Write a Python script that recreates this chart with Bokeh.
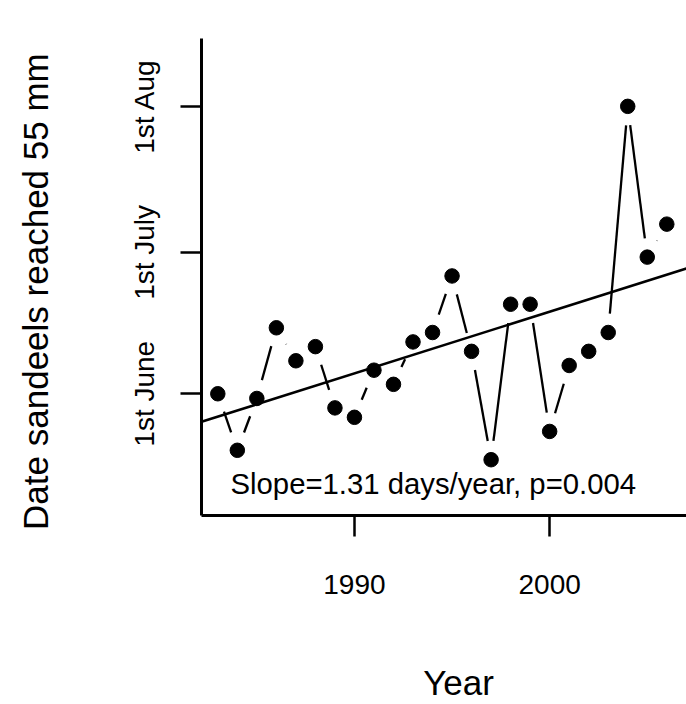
import numpy as np
from bokeh.plotting import figure
from bokeh.models import Range1d, FixedTicker, Label
from bokeh.embed import file_html
from bokeh.resources import INLINE

# ---- data ----
years = list(range(1983, 2007))
days = [152, 140, 151, 166, 159, 162, 149, 147, 157, 154, 163, 165,
        177, 161, 138, 171, 171, 144, 158, 161, 165, 213, 181, 188]
y_ticks = [152, 182, 213]
y_tick_labels = ["1st June", "1st July", "1st Aug"]
x_ticks = [1990, 2000]
slope_text = "Slope=1.31 days/year, p=0.004"
x_title = "Year"
y_title = "Date sandeels reached 55 mm"

# ---- layout ----
W, H = 686, 704
ML, MR, MT, MB = 201, 0, 38, 189
x0, x1 = 1982.165, 2007.01
y0, y1 = 126.16, 227.4
FONT = "Liberation Sans"

p = figure(width=W, height=H, output_backend="svg", toolbar_location=None,
           x_range=Range1d(x0, x1), y_range=Range1d(y0, y1),
           min_border_left=ML, min_border_right=MR, min_border_top=MT,
           min_border_bottom=MB)
p.outline_line_color = None
p.grid.visible = False
p.background_fill_color = "white"
p.border_fill_color = "white"

# px per data unit (frame)
fw = W - ML - MR
fh = H - MT - MB
sx = fw / (x1 - x0)
sy = fh / (y1 - y0)

# connecting line with gaps around points (like R type="b")
gap = 19.0
xs, ys = [], []
for i in range(len(years) - 1):
    ax, ay = years[i], days[i]
    bx, by = years[i + 1], days[i + 1]
    dx, dy = (bx - ax) * sx, (by - ay) * sy
    L = np.hypot(dx, dy)
    if L > 2 * gap:
        f = gap / L
        xs.append([ax + f * (bx - ax), bx - f * (bx - ax)])
        ys.append([ay + f * (by - ay), by - f * (by - ay)])
p.multi_line(xs, ys, line_color="black", line_width=2.3)

# regression line
b, a = np.polyfit(years, days, 1)
p.line([x0, x1], [a + b * x0, a + b * x1], line_color="black", line_width=2.6)

# points
p.scatter(years, days, size=14.5, color="black", marker="circle")

# annotation inside the plot
lab = Label(x=1983.65, y=136.4, text=slope_text, text_font=FONT,
            text_font_size="29.3px", text_color="black", text_baseline="top")
p.add_layout(lab)

# axes
for ax in (p.xaxis[0], p.yaxis[0]):
    ax.axis_line_width = 3
    ax.axis_line_color = "black"
    ax.major_tick_line_width = 2.5
    ax.major_tick_line_color = "black"
    ax.major_tick_out = 21
    ax.major_tick_in = 0
    ax.minor_tick_line_color = None
    ax.major_label_text_font = FONT
    ax.major_label_text_font_size = "28px"
    ax.major_label_text_color = "black"
    ax.axis_label_text_font = FONT
    ax.axis_label_text_font_size = "35px"
    ax.axis_label_text_font_style = "normal"
    ax.axis_label_text_color = "black"

p.xaxis[0].ticker = FixedTicker(ticks=x_ticks)
p.xaxis[0].major_label_standoff = 38
# leading non-breaking spaces shift the title a little to the right, as in the reference
p.xaxis[0].axis_label = "\u00a0" * 3 + x_title
p.xaxis[0].axis_label_standoff = 66

p.yaxis[0].ticker = FixedTicker(ticks=y_ticks)
p.yaxis[0].major_label_overrides = {t: l for t, l in zip(y_ticks, y_tick_labels)}
p.yaxis[0].major_label_orientation = "vertical"
p.yaxis[0].major_label_standoff = 20
# non-breaking spaces push the title a little toward the bottom, as in the reference
p.yaxis[0].axis_label = y_title + "\u00a0" * 3
p.yaxis[0].axis_label_standoff = 72

open("out.html", "w").write(file_html(p, INLINE))
